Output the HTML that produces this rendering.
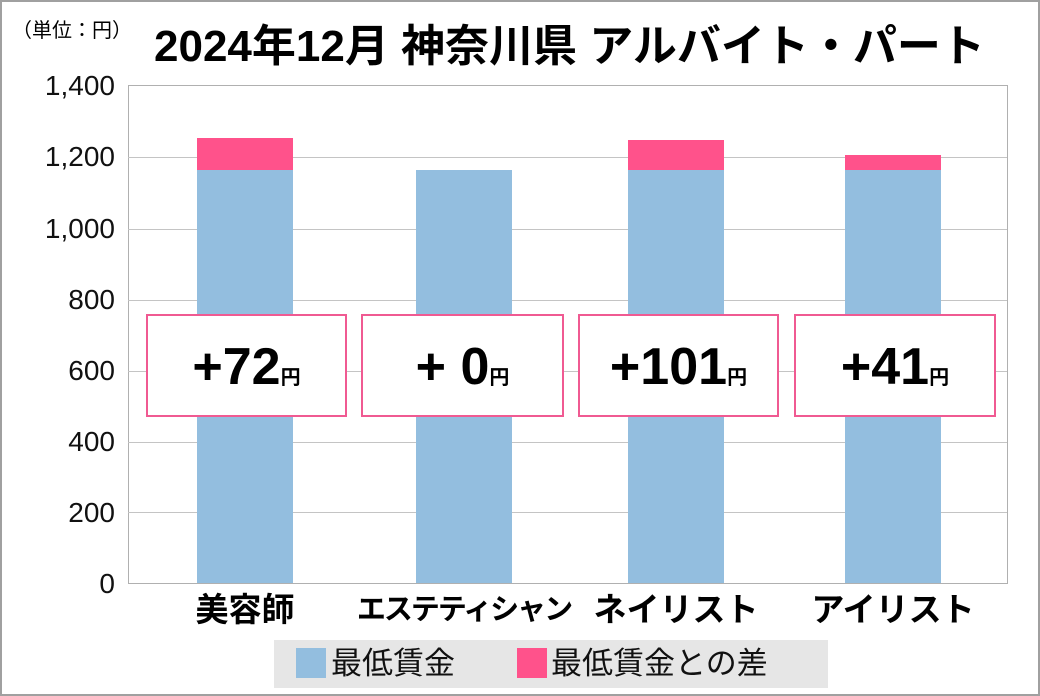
<!DOCTYPE html>
<html><head><meta charset="utf-8"><style>
body{margin:0;width:1040px;height:696px;overflow:hidden;background:#fff;font-family:"Liberation Sans","Noto Sans CJK JP",sans-serif;}
.a{position:absolute}
.g{position:absolute;left:128px;width:879px;height:1px;background:#c4c4c4}
.y{position:absolute;right:925px;font-size:28px;color:#111;line-height:30px}
.bl{position:absolute;background:#93bedf;width:96px}
.pk{position:absolute;background:#ff528b;width:96px}
.box{position:absolute;top:314px;border:2px solid #f05a92;background:#fff;box-sizing:border-box;height:103px;text-align:center;font-weight:bold;font-size:52px;line-height:103px;color:#000}
.box small{font-size:20px}
.cat{position:absolute;top:588px;font-size:33px;font-weight:bold;text-align:center;width:240px;line-height:44px}
</style></head><body>
<div class="a" style="left:0;top:0;width:1036px;height:692px;border:2px solid #a0a0a0"></div>
<div class="a" style="left:12px;top:14px;font-size:20px;">（単位：円）</div>
<div class="a" style="left:154px;top:20px;font-size:44px;font-weight:bold;line-height:54px;letter-spacing:0px">2024年12月 神奈川県 アルバイト・パート</div>
<div class="a" style="left:128px;top:85px;width:878px;height:498px;border:1px solid #b0b0b0;border-bottom:none"></div>
<div class="g" style="top:157px"></div><div class="g" style="top:229px"></div><div class="g" style="top:300px"></div>
<div class="g" style="top:371px"></div><div class="g" style="top:442px"></div><div class="g" style="top:512px"></div><div class="g" style="top:583px;background:#b0b0b0"></div>
<div class="y" style="top:71px">1,400</div><div class="y" style="top:142px">1,200</div><div class="y" style="top:214px">1,000</div>
<div class="y" style="top:285px">800</div><div class="y" style="top:356px">600</div><div class="y" style="top:427px">400</div>
<div class="y" style="top:498px">200</div><div class="y" style="top:569px">0</div>
<div class="pk" style="left:197px;top:138px;height:33px"></div><div class="bl" style="left:197px;top:170px;height:413px"></div>
<div class="bl" style="left:416px;top:170px;height:413px"></div>
<div class="pk" style="left:628px;top:140px;height:31px"></div><div class="bl" style="left:628px;top:170px;height:413px"></div>
<div class="pk" style="left:845px;top:155px;height:16px"></div><div class="bl" style="left:845px;top:170px;height:413px"></div>
<div class="box" style="left:146px;width:201px">+72<small>円</small></div>
<div class="box" style="left:361px;width:203px">+ 0<small>円</small></div>
<div class="box" style="left:578px;width:201px">+101<small>円</small></div>
<div class="box" style="left:794px;width:202px">+41<small>円</small></div>
<div class="cat" style="left:125px">美容師</div>
<div class="cat" style="left:344px;font-size:29px;letter-spacing:-2px">エステティシャン</div>
<div class="cat" style="left:556px">ネイリスト</div>
<div class="cat" style="left:773px">アイリスト</div>
<div class="a" style="left:274px;top:640px;width:554px;height:48px;background:#e6e6e6"></div>
<div class="a" style="left:296px;top:648px;width:30px;height:30px;background:#93bedf"></div>
<div class="a" style="left:331px;top:640px;font-size:31px;line-height:48px;color:#111">最低賃金</div>
<div class="a" style="left:517px;top:648px;width:30px;height:30px;background:#ff528b"></div>
<div class="a" style="left:551px;top:640px;font-size:31px;line-height:48px;color:#111">最低賃金との差</div>
</body></html>
